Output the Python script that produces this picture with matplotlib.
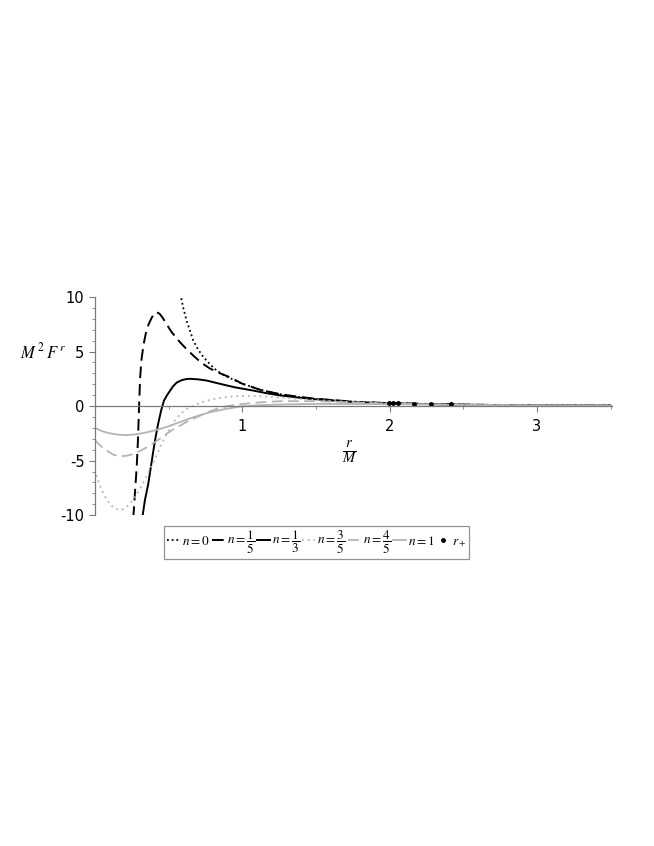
import matplotlib
matplotlib.use("Agg")
import matplotlib.pyplot as plt
from matplotlib.ticker import MultipleLocator

"""
    Radial force M^2 F^r against r/M for several values of n,
    with the horizon r_+ of each case marked on the curves.
"""

# -----------------------------------------------------------------------------
# Values

labels = [r"$n=0$", r"$n=\dfrac{1}{5}$", r"$n=\dfrac{1}{3}$",
          r"$n=\dfrac{3}{5}$", r"$n=\dfrac{4}{5}$", r"$n=1$"]

# n = 0 (black dotted)
r_n0 = [0.58, 0.60, 0.623, 0.668, 0.70, 0.736, 0.78, 0.826, 0.88, 0.95,
        1.0, 1.075, 1.15, 1.256, 1.35, 1.5, 1.776, 2.0, 2.5, 3.0, 3.5]
f_n0 = [10.3, 9.0, 7.8, 6.0, 5.2, 4.5, 3.85, 3.26, 2.8, 2.35,
        2.05, 1.72, 1.4, 1.1, 0.88, 0.64, 0.38, 0.26, 0.13, 0.07, 0.05]

# n = 1/5 (black dashed)
r_n15 = [0.261, 0.272, 0.284, 0.293, 0.30, 0.307, 0.316, 0.33, 0.345, 0.365,
         0.386, 0.405, 0.42, 0.44, 0.46, 0.487, 0.52, 0.55, 0.578, 0.62,
         0.668, 0.72, 0.78, 0.85, 0.917, 1.0, 1.12, 1.25, 1.4, 1.5, 1.776,
         2.0, 2.5, 3.0, 3.5]
f_n15 = [-10.25, -8.0, -5.6, -3.0, -0.1, 2.5, 4.2, 5.6, 6.6, 7.5,
         8.1, 8.5, 8.6, 8.45, 8.1, 7.5, 6.8, 6.3, 5.85, 5.25,
         4.63, 4.0, 3.45, 3.0, 2.64, 2.05, 1.5, 1.1, 0.82, 0.67, 0.38,
         0.27, 0.13, 0.07, 0.04]

# n = 1/3 (black solid)
r_n13 = [0.322, 0.34, 0.363, 0.38, 0.397, 0.413, 0.43, 0.45, 0.469, 0.49,
         0.51, 0.53, 0.555, 0.59, 0.62, 0.645, 0.70, 0.759, 0.849, 0.95,
         1.075, 1.17, 1.256, 1.38, 1.5, 1.776, 2.0, 2.5, 3.0, 3.5]
f_n13 = [-10.25, -8.6, -7.1, -5.6, -4.1, -2.8, -1.6, -0.4, 0.5, 1.0,
         1.4, 1.8, 2.15, 2.38, 2.47, 2.5, 2.45, 2.34, 2.04, 1.72,
         1.42, 1.17, 0.98, 0.78, 0.62, 0.36, 0.25, 0.12, 0.07, 0.04]

# n = 3/5 (grey dotted)
r_n35 = [0.0, 0.017, 0.035, 0.06, 0.092, 0.125, 0.16, 0.195, 0.227, 0.265,
         0.306, 0.345, 0.386, 0.42, 0.453, 0.49, 0.532, 0.575, 0.623, 0.68,
         0.736, 0.80, 0.87, 0.95, 1.03, 1.13, 1.233, 1.36, 1.5, 1.75,
         2.0, 2.5, 3.0, 3.5]
f_n35 = [-5.8, -6.6, -7.3, -8.1, -8.8, -9.3, -9.5, -9.45, -9.1, -8.5,
         -7.6, -6.6, -5.46, -4.5, -3.47, -2.5, -1.5, -0.8, -0.26, 0.1,
         0.4, 0.62, 0.8, 0.9, 0.94, 0.9, 0.8, 0.68, 0.55, 0.38,
         0.25, 0.12, 0.06, 0.04]

# n = 4/5 (grey dashed)
r_n45 = [0.0, 0.04, 0.08, 0.125, 0.171, 0.215, 0.261, 0.315, 0.374, 0.43,
         0.487, 0.53, 0.578, 0.63, 0.69, 0.755, 0.826, 0.90, 0.95, 1.075,
         1.256, 1.5, 2.0, 2.5, 3.0, 3.5]
f_n45 = [-3.1, -3.65, -4.08, -4.45, -4.6, -4.55, -4.4, -4.05, -3.62, -3.1,
         -2.55, -2.15, -1.79, -1.4, -1.03, -0.62, -0.26, 0.0, 0.1, 0.3,
         0.45, 0.45, 0.22, 0.11, 0.06, 0.04]

# n = 1 (grey solid)
r_n1 = [0.0, 0.05, 0.103, 0.16, 0.216, 0.27, 0.329, 0.385, 0.442, 0.50,
        0.555, 0.61, 0.668, 0.725, 0.781, 0.88, 0.984, 1.10, 1.256, 1.5,
        2.0, 2.5, 3.0, 3.5]
f_n1 = [-2.0, -2.3, -2.5, -2.62, -2.66, -2.6, -2.47, -2.3, -2.1, -1.85,
        -1.58, -1.3, -1.03, -0.78, -0.57, -0.28, -0.05, 0.07, 0.14, 0.2,
        0.18, 0.1, 0.06, 0.04]

# horizons r_+ and the force there
r_plus = [1.997, 2.02, 2.054, 2.166, 2.279, 2.415]
f_plus = [0.25, 0.25, 0.24, 0.22, 0.2, 0.18]

# -----------------------------------------------------------------------------

plt.rcParams["mathtext.fontset"] = "stix"
plt.rcParams["axes.unicode_minus"] = False

fig = plt.figure(figsize=(6.54, 8.46), dpi=100)
ax = fig.add_axes([0.145, 0.391, 0.791, 0.258])

grey = "#b4b4b4"
axis_grey = "#7a7a7a"

ax.plot(r_n0, f_n0, color="black", linestyle=(0, (1, 1.6)), lw=1.3,
        label=labels[0])
ax.plot(r_n15, f_n15, color="black", linestyle=(0, (6, 3)), lw=1.4,
        label=labels[1])
ax.plot(r_n13, f_n13, color="black", linestyle="-", lw=1.4,
        label=labels[2])
ax.plot(r_n35, f_n35, color=grey, linestyle=(0, (1, 2.2)), lw=1.3,
        label=labels[3])
ax.plot(r_n45, f_n45, color=grey, linestyle=(0, (6, 3)), lw=1.3,
        label=labels[4])
ax.plot(r_n1, f_n1, color=grey, linestyle="-", lw=1.3, label=labels[5])
ax.plot(r_plus, f_plus, linestyle="none", marker="o", ms=2.5,
        color="black", label=r"$r_+$")

ax.set_xlim(0, 3.51)
ax.set_ylim(-10, 10)

# Maple style axes: left spine plus a horizontal axis through zero
ax.spines["top"].set_visible(False)
ax.spines["right"].set_visible(False)
ax.spines["bottom"].set_position(("data", 0))
for side in ("left", "bottom"):
    ax.spines[side].set_color(axis_grey)
    ax.spines[side].set_linewidth(0.9)

ax.set_xticks([1, 2, 3])
ax.xaxis.set_minor_locator(MultipleLocator(0.5))
ax.set_yticks([-10, -5, 0, 5, 10])
ax.yaxis.set_minor_locator(MultipleLocator(1))
ax.tick_params(which="both", color=axis_grey, direction="out")
ax.tick_params(which="major", length=4, labelsize=10.5)
ax.tick_params(which="minor", length=2.5)
ax.tick_params(axis="x", pad=5)

# Axis labels
ax.text(0.493, 0.29, r"$\frac{r}{M}$", transform=ax.transAxes,
        ha="center", va="center", fontsize=15)
fig.text(0.066, 1 - 352 / 846, r"$M^{\,2}\,F^{\,r}$", ha="center",
         va="center", fontsize=12)

# Legend underneath in one row
leg = fig.legend(loc="upper center", bbox_to_anchor=(0.484, 0.378), ncol=7,
                 handlelength=1.0, handletextpad=0.15, columnspacing=0.15,
                 fontsize=9.5, frameon=True, fancybox=False,
                 borderpad=0.2, borderaxespad=0)
leg.get_frame().set_edgecolor(axis_grey)
leg.get_frame().set_linewidth(0.9)

fig.savefig("out.png", dpi=100)
